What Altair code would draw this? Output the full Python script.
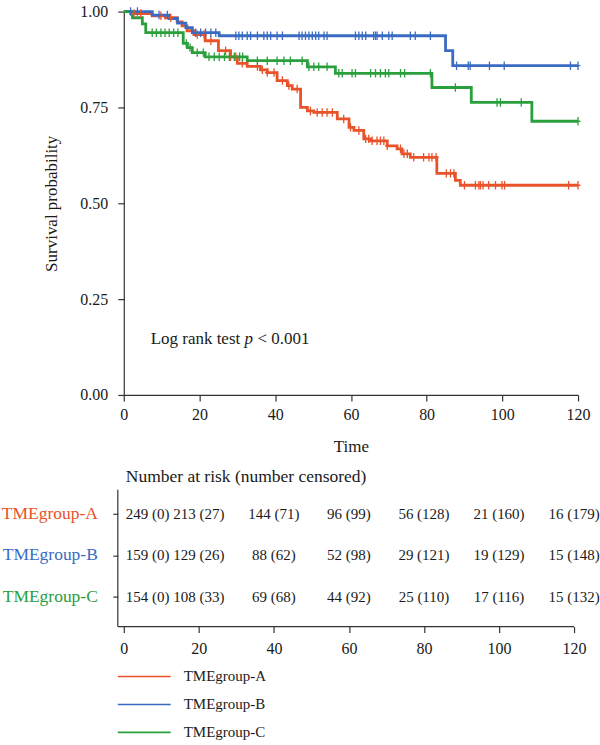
import altair as alt
import pandas as pd

SERIF = "Liberation Serif"
AXIS_COL = "#333333"
TEXT_COL = "#1a1a1a"

groups = ["TMEgroup-A", "TMEgroup-B", "TMEgroup-C"]
palette = ["#E8532A", "#3A6BC3", "#2AA03C"]

# Kaplan-Meier estimates: step times (months) and survival after each step
time_a = [0, 1.8, 7.5, 11.0, 14.1, 15.4, 16.7, 18.5, 21.5, 25.0, 28.2, 30.0, 32.6,
          36.1, 37.9, 40.5, 43.2, 44.5, 46.7, 48.5, 50.2, 56.4, 59.5, 60.8, 63.4,
          65.2, 69.6, 72.2, 73.5, 75.7, 82.7, 87.6, 88.9]
surv_a = [1.0, 0.995, 0.989, 0.984, 0.973, 0.963, 0.950, 0.940, 0.924, 0.898, 0.882,
          0.865, 0.857, 0.848, 0.841, 0.820, 0.807, 0.798, 0.750, 0.741, 0.737, 0.720,
          0.698, 0.690, 0.668, 0.663, 0.650, 0.642, 0.629, 0.620, 0.578, 0.560, 0.547]

time_b = [0, 7.5, 12.0, 14.2, 16.4, 18.1, 25.2, 85.0, 86.9]
surv_b = [1.0, 0.991, 0.982, 0.970, 0.958, 0.945, 0.937, 0.898, 0.859]

time_c = [0, 2.3, 4.9, 5.8, 15.7, 16.8, 18.1, 21.5, 32.6, 48.5, 55.9, 81.4, 91.8, 107.8]
surv_c = [1.0, 0.984, 0.968, 0.945, 0.917, 0.906, 0.893, 0.882, 0.872, 0.856, 0.839,
          0.802, 0.763, 0.714]

# Censoring times per group
cens_a = [2.7, 4.5, 9.8, 12.4, 19.4, 21.2, 23.0, 26.9, 28.2, 29.6, 31.3, 35.3, 36.6,
          37.9, 39.7, 41.9, 43.6, 45.8, 49.3, 51.1, 52.4, 53.7, 55.1, 58.1, 59.9, 62.1,
          63.9, 64.7, 65.6, 66.9, 67.8, 68.7, 69.6, 73.1, 74.0, 74.9, 76.6, 79.2, 80.6,
          81.4, 82.5, 85.2, 86.3, 87.2, 90.0, 92.9, 93.8, 94.2, 94.9, 96.4, 98.2, 99.9,
          100.6, 117.5, 120.0]
cens_b = [1.8, 3.6, 9.3, 11.5, 19.0, 20.3, 21.6, 23.0, 24.3, 29.6, 30.4, 31.3, 32.6,
          33.5, 35.3, 37.0, 37.9, 38.8, 40.5, 41.9, 46.3, 47.1, 48.0, 48.9, 49.8, 50.7,
          51.5, 52.9, 53.7, 61.2, 62.1, 63.0, 63.9, 66.0, 66.5, 66.9, 68.3, 70.0, 70.9,
          75.7, 77.0, 81.0, 87.9, 91.0, 91.5, 96.6, 100.5, 118.0, 120.0]
cens_c = [7.5, 8.6, 9.8, 10.9, 12.0, 13.2, 14.3, 16.5, 17.5, 19.4, 21.0, 22.5, 23.9,
          25.2, 26.6, 27.9, 29.2, 30.6, 31.4, 35.3, 37.9, 40.5, 42.3, 44.0, 47.1, 48.9,
          50.2, 51.5, 53.7, 56.8, 57.7, 60.3, 61.2, 65.2, 66.5, 67.8, 69.1, 70.0, 73.1,
          74.2, 81.0, 87.6, 98.6, 99.5, 105.0, 120.0]

# Number at risk (number censored) at each table time
table_times = [0, 20, 40, 60, 80, 100, 120]
risk_a = [249, 213, 144, 96, 56, 21, 16]
censored_a = [0, 27, 71, 99, 128, 160, 179]
risk_b = [159, 129, 88, 52, 29, 19, 15]
censored_b = [0, 26, 62, 98, 121, 129, 148]
risk_c = [154, 108, 69, 44, 25, 17, 15]
censored_c = [0, 33, 68, 92, 110, 116, 132]

x_ticks = [0, 20, 40, 60, 80, 100, 120]
y_ticks = [0, 0.25, 0.5, 0.75, 1.0]


def survival_at(times, survs, t):
    s = survs[0]
    for ti, si in zip(times, survs):
        if ti <= t:
            s = si
    return s


curve_rows, cens_rows = [], []
for name, ts, ss, cs in [(groups[0], time_a, surv_a, cens_a),
                         (groups[1], time_b, surv_b, cens_b),
                         (groups[2], time_c, surv_c, cens_c)]:
    for t, s in zip(ts, ss):
        curve_rows.append({"group": name, "time": t, "surv": s})
    curve_rows.append({"group": name, "time": 120, "surv": ss[-1]})
    for t in cs:
        cens_rows.append({"group": name, "time": t, "surv": survival_at(ts, ss, t)})
curves = pd.DataFrame(curve_rows)
censors = pd.DataFrame(cens_rows)

table_rows = []
for name, nr, nc in [(groups[0], risk_a, censored_a),
                     (groups[1], risk_b, censored_b),
                     (groups[2], risk_c, censored_c)]:
    for t, r, c in zip(table_times, nr, nc):
        table_rows.append({"group": name, "time": t, "label": f"{r} ({c})"})
table = pd.DataFrame(table_rows)

color = alt.Color("group:N", scale=alt.Scale(domain=groups, range=palette), legend=None)

# ---- survival curves ----
PLOT_W, PLOT_H = 455, 384
x_top = alt.X("time:Q", scale=alt.Scale(domain=[0, 120], nice=False, zero=False),
              axis=alt.Axis(values=x_ticks, title="Time", labelPadding=6,
                            titlePadding=16, labelFlush=False,
                            labelFont=SERIF, titleFont=SERIF))
y_top = alt.Y("surv:Q", scale=alt.Scale(domain=[0, 1], nice=False),
              axis=alt.Axis(values=y_ticks, format=".2f", title="Survival probability",
                            labelPadding=10, titlePadding=19, labelFlush=False,
                            labelFont=SERIF, titleFont=SERIF))

lines = alt.Chart(curves).mark_line(interpolate="step-after", strokeWidth=2.8).encode(
    x=x_top, y=y_top, color=color)
marks = alt.Chart(censors).mark_point(
    shape="M0,-1V1M-0.55,0H0.55", filled=False, size=72, strokeWidth=1.3, opacity=1
).encode(x=x_top, y=y_top, color=color)

note_pos = pd.DataFrame({"time": [7.1], "surv": [0.145]})
note_base = alt.Chart(note_pos).encode(x=x_top, y=y_top)
note1 = note_base.mark_text(align="left", baseline="middle", fontSize=17,
                            color=TEXT_COL).encode(text=alt.value("Log rank test"))
note2 = note_base.mark_text(align="left", baseline="middle", fontSize=17, dx=94,
                            fontStyle="italic", color=TEXT_COL).encode(text=alt.value("p"))
note3 = note_base.mark_text(align="left", baseline="middle", fontSize=17, dx=107,
                            color=TEXT_COL).encode(text=alt.value("< 0.001"))

top = alt.layer(lines, marks, note1, note2, note3).properties(width=PLOT_W, height=PLOT_H)

# ---- risk table ----
TAB_W, TAB_H = 451, 182
one = pd.DataFrame({"k": [0]})
x_tab = alt.X("time:Q", scale=alt.Scale(domain=[0, 120], nice=False, zero=False),
              axis=alt.Axis(values=x_ticks, title=None, domain=False, labelPadding=8,
                            labelFlush=False, labelFont=SERIF))
y_tab = alt.Y("group:N", scale=alt.Scale(domain=groups, range=[69, 152], padding=0),
              axis=alt.Axis(labels=False, domain=False, tickSize=5, offset=6, title=None))

tab_base = alt.Chart(table).encode(x=x_tab, y=y_tab, text="label:N")
first_col = tab_base.transform_filter("datum.time == 0").mark_text(
    align="left", baseline="middle", dx=2, fontSize=15, color=TEXT_COL)
other_cols = tab_base.transform_filter("datum.time > 0").mark_text(
    align="center", baseline="middle", fontSize=15, color=TEXT_COL)
row_names = alt.Chart(pd.DataFrame({"group": groups})).mark_text(
    align="right", baseline="middle", fontSize=17.5
).encode(x=alt.value(-26), y=y_tab, text="group:N", color=color)
tab_title = alt.Chart(one).mark_text(
    align="left", baseline="middle", fontSize=17.5, color=TEXT_COL
).encode(x=alt.value(2), y=alt.value(32), text=alt.value("Number at risk (number censored)"))
v_line = alt.Chart(one).mark_rule(color=AXIS_COL, strokeWidth=1.2).encode(
    x=alt.value(-6), y=alt.value(45), y2=alt.value(TAB_H))
h_line = alt.Chart(one).mark_rule(color=AXIS_COL, strokeWidth=1.2).encode(
    x=alt.value(-6), x2=alt.value(TAB_W), y=alt.value(TAB_H))

risk = alt.layer(first_col, other_cols, row_names, tab_title, v_line, h_line).properties(
    width=TAB_W, height=TAB_H)

# ---- legend (one row per group, stacked top to bottom) ----
leg_df = pd.DataFrame({"group": groups, "slot": [0, 1, 2]})
y_leg = alt.Y("slot:Q", scale=alt.Scale(domain=[0, 2], range=[0, 56], nice=False,
                                        zero=False), axis=None)
leg_lines = alt.Chart(leg_df).mark_rule(strokeWidth=1.6).encode(
    x=alt.value(-6), x2=alt.value(47), y=y_leg, color=color)
leg_text = alt.Chart(leg_df).mark_text(
    align="left", baseline="middle", fontSize=15, color=TEXT_COL
).encode(x=alt.value(60), y=y_leg, text="group:N")
legend = alt.layer(leg_lines, leg_text).properties(width=200, height=56)

chart = alt.vconcat(top, risk, legend, spacing=50, bounds="flush").properties(
    padding={"left": 1, "top": 3, "right": 0, "bottom": 2},
    background="white",
).configure_view(strokeWidth=0).configure_axis(
    grid=False, labelFont=SERIF, titleFont=SERIF, labelFontSize=16, titleFontSize=17,
    titleFontWeight="normal", domainColor=AXIS_COL, tickColor=AXIS_COL,
    labelColor=TEXT_COL, titleColor=TEXT_COL, domainWidth=1.2, tickWidth=1.2, tickSize=6
).configure_text(font=SERIF)

chart.save("out.html", embed_options={"renderer": "svg", "actions": False})
